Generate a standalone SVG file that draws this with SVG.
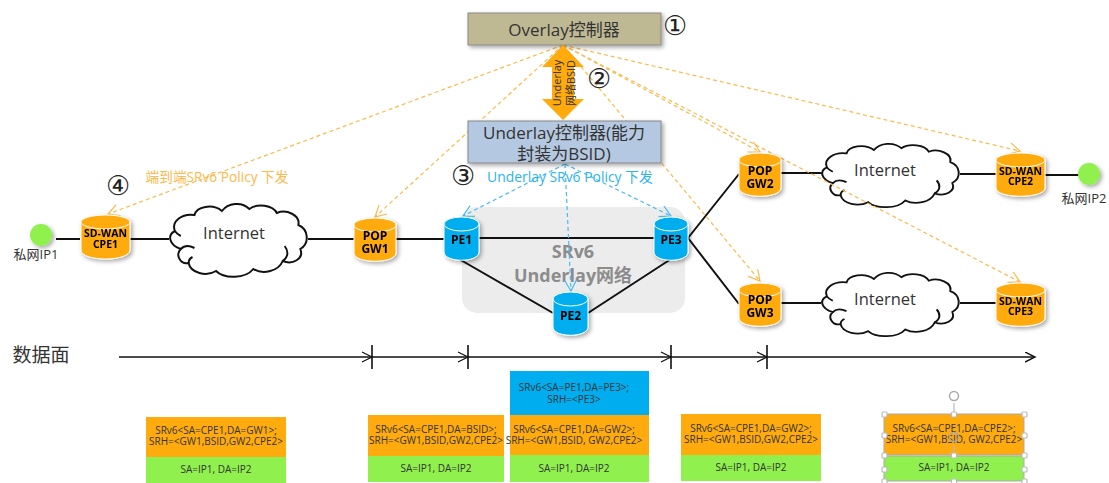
<svg xmlns="http://www.w3.org/2000/svg" xmlns:xlink="http://www.w3.org/1999/xlink" width="1109" height="483" viewBox="0 0 1109 483">
<style>
text{font-family:"Open Sans","Noto Sans CJK SC",sans-serif;text-anchor:middle;fill:#333}
.lnk{stroke:#111;stroke-width:2;fill:none}
.od{stroke:#fdb94a;stroke-width:1.2;stroke-dasharray:4 3;fill:none;marker-end:url(#oa)}
.bd{stroke:#45bdf0;stroke-width:1.2;stroke-dasharray:4 3;fill:none;marker-end:url(#ba)}
.cyl{font-size:10.5px;font-weight:700;fill:#000}
.pop{font-size:12px;font-weight:700;fill:#000}
.pk{font-size:10px;fill:#333}
.num{font-family:"DejaVu Sans",sans-serif;font-size:27px;fill:#222}
.net{font-size:16.500px}
.h{fill:#fff;stroke:#bbb;stroke-width:1.2}
</style>
<defs>
<marker id="oa" markerUnits="userSpaceOnUse" markerWidth="16" markerHeight="16" refX="12" refY="6" orient="auto"><path d="M1 0L12 6L1 12" fill="none" stroke="#fdb94a" stroke-width="1.2"/></marker>
<marker id="ba" markerUnits="userSpaceOnUse" markerWidth="16" markerHeight="16" refX="12" refY="6" orient="auto"><path d="M1 0L12 6L1 12" fill="none" stroke="#45bdf0" stroke-width="1.2"/></marker>
<marker id="ka" markerUnits="userSpaceOnUse" markerWidth="12" markerHeight="12" refX="10" refY="5" orient="auto"><path d="M0 0L10 5L0 10" fill="none" stroke="#111" stroke-width="1.4"/></marker>
<filter id="sh" x="-20%" y="-20%" width="140%" height="140%"><feDropShadow dx="2" dy="2" stdDeviation="2" flood-color="#000" flood-opacity=".35"/></filter>
<g id="cloud"><path d="M12 46C0 42-2 32 6 28C2 18 14 10 26 12C28 4 44 0 54 8C60 0 74-2 82 6C90 0 106 2 110 10C120 6 134 12 132 22C142 26 144 40 134 46C138 56 126 62 116 58C112 68 96 72 86 66C78 76 56 76 48 68C38 74 22 70 20 60C12 62 6 52 12 46Z" fill="#fff" stroke="#111" stroke-width="2"/><path d="M12 46C16 42 22 43 26 45M6 28C8 31 10 32 12 33M116 58C122 54 122 48 118 43M20 60C20 57 22 55 24 54" fill="none" stroke="#111" stroke-width="2"/></g>
</defs>

<g id="underlay-zone"><rect x="462" y="207" width="223" height="106" rx="15" fill="#ececec"/><text x="573" y="258" font-size="18" font-weight="700" style="fill:#8c8c8c"><tspan x="573">SRv6</tspan><tspan x="573" dy="24">Underlay网络</tspan></text></g>

<g id="cloud1"><use xlink:href="#cloud" href="#cloud" transform="translate(169,203) scale(.98,1)"/><text class="net" x="234" y="239">Internet</text></g>
<g id="cloud2"><use xlink:href="#cloud" href="#cloud" transform="translate(821,143) scale(.98,.87)"/><text class="net" x="885" y="176">Internet</text></g>
<g id="cloud3"><use xlink:href="#cloud" href="#cloud" transform="translate(821,272) scale(.98,.87)"/><text class="net" x="885" y="305">Internet</text></g>

<g id="connectors">
<path class="lnk" d="M56 239H80M130 239H169M308 239H354M396 239H444M479 238H654M459 259L553 313M588 313L671 259M688 238L739 174M688 238L739 304M781 173H821M960 174H996M1045 175H1080M781 303H821M960 303H996"/>
<path class="od" d="M563 45L108 214"/>
<path class="od" d="M563 45L375 217"/>
<path class="od" d="M563 45L760 152"/>
<path class="od" d="M563 45L1020 151"/>
<path class="od" d="M563 45L760 281"/>
<path class="od" d="M563 45L1020 282"/>
<path class="bd" d="M565 164L463 216"/>
<path class="bd" d="M565 164L571 291"/>
<path class="bd" d="M565 164L671 216"/>
<path d="M119 357H1035" fill="none" stroke="#111" stroke-width="1.4" marker-end="url(#ka)"/>
<path d="M372 345V369M468 345V369M671 345V369M767 345V369" stroke="#111" stroke-width="1.6"/>
<path d="M362 352L372 357L362 362M458 352L468 357L458 362M661 352L671 357L661 362M757 352L767 357L757 362" fill="none" stroke="#111" stroke-width="1.2"/>
</g>

<g id="overlay-ctrl"><rect x="468" y="13" width="193" height="32" fill="#bfb993" stroke="#888" filter="url(#sh)"/><text x="564" y="36" font-size="17">Overlay控制器</text></g>
<g id="bsid-arrow"><path d="M563 45L584 67H574V99H584L563 120L542 99H552V67H542Z" fill="#ffab0d"/><text transform="translate(563,83) rotate(-90)" font-size="11"><tspan x="0" dy="-2">Underlay</tspan><tspan x="0" dy="14">网络BSID</tspan></text></g>
<g id="underlay-ctrl"><rect x="468" y="121" width="193" height="42" fill="#b4c8e1" stroke="#888" filter="url(#sh)"/><text font-size="17"><tspan x="564" y="139">Underlay控制器(能力</tspan><tspan x="564" y="160">封装为BSID)</tspan></text></g>

<text class="num" x="675" y="35">①</text>
<text class="num" x="599" y="88">②</text>
<text class="num" x="463" y="185">③</text>
<text class="num" x="118" y="195">④</text>
<text x="570" y="182" font-size="13.900" style="fill:#2db3ee">Underlay SRv6 Policy 下发</text>
<text x="217" y="182" font-size="13.700" style="fill:#fdb94a">端到端SRv6 Policy 下发</text>

<g id="ip1"><circle cx="41" cy="235" r="11" fill="#90f04e" filter="url(#sh)"/><text x="36" y="259" font-size="13">私网IP1</text></g>
<g id="ip2"><circle cx="1089" cy="174" r="11" fill="#90f04e" filter="url(#sh)"/><text x="1084" y="203" font-size="13">私网IP2</text></g>

<g id="cpe1" filter="url(#sh)"><path d="M81 222V250C81 262 130 262 130 250V222Z" fill="#ffab0d" stroke="#fff"/><ellipse cx="105.500" cy="222" rx="24.500" ry="7" fill="#ffab0d" stroke="#fff"/><text class="cyl" x="105.500" y="237"><tspan x="105.500">SD-WAN</tspan><tspan x="105.500" dy="11">CPE1</tspan></text></g>
<g id="gw1" filter="url(#sh)"><path d="M354 225V253C354 264 396 264 396 253V225Z" fill="#ffab0d" stroke="#fff"/><ellipse cx="375" cy="225" rx="21" ry="7" fill="#ffab0d" stroke="#fff"/><text class="pop" x="375" y="240"><tspan x="375">POP</tspan><tspan x="375" dy="13">GW1</tspan></text></g>
<g id="pe1" filter="url(#sh)"><path d="M444 224V252C444 263 479 263 479 252V224Z" fill="#00adef" stroke="#fff"/><ellipse cx="461.500" cy="224" rx="17.500" ry="7" fill="#00adef" stroke="#fff"/><text class="pop" x="461.500" y="244">PE1</text></g>
<g id="pe3" filter="url(#sh)"><path d="M654 224V252C654 263 688 263 688 252V224Z" fill="#00adef" stroke="#fff"/><ellipse cx="671" cy="224" rx="17" ry="7" fill="#00adef" stroke="#fff"/><text class="pop" x="671" y="244">PE3</text></g>
<g id="pe2" filter="url(#sh)"><path d="M553 299V327C553 338 588 338 588 327V299Z" fill="#00adef" stroke="#fff"/><ellipse cx="570.500" cy="299" rx="17.500" ry="7" fill="#00adef" stroke="#fff"/><text class="pop" x="570.500" y="320">PE2</text></g>
<g id="gw2" filter="url(#sh)"><path d="M739 160V188C739 199 781 199 781 188V160Z" fill="#ffab0d" stroke="#fff"/><ellipse cx="760" cy="160" rx="21" ry="7" fill="#ffab0d" stroke="#fff"/><text class="pop" x="760" y="175"><tspan x="760">POP</tspan><tspan x="760" dy="13">GW2</tspan></text></g>
<g id="gw3" filter="url(#sh)"><path d="M739 290V318C739 329 781 329 781 318V290Z" fill="#ffab0d" stroke="#fff"/><ellipse cx="760" cy="290" rx="21" ry="7" fill="#ffab0d" stroke="#fff"/><text class="pop" x="760" y="304"><tspan x="760">POP</tspan><tspan x="760" dy="13">GW3</tspan></text></g>
<g id="cpe2" filter="url(#sh)"><path d="M996 160V188C996 199 1045 199 1045 188V160Z" fill="#ffab0d" stroke="#fff"/><ellipse cx="1020.500" cy="160" rx="24.500" ry="7" fill="#ffab0d" stroke="#fff"/><text class="cyl" x="1020.500" y="175"><tspan x="1020.500">SD-WAN</tspan><tspan x="1020.500" dy="10">CPE2</tspan></text></g>
<g id="cpe3" filter="url(#sh)"><path d="M996 290V318C996 329 1045 329 1045 318V290Z" fill="#ffab0d" stroke="#fff"/><ellipse cx="1020.500" cy="290" rx="24.500" ry="7" fill="#ffab0d" stroke="#fff"/><text class="cyl" x="1020.500" y="305"><tspan x="1020.500">SD-WAN</tspan><tspan x="1020.500" dy="10">CPE3</tspan></text></g>

<text x="41" y="362" font-size="19">数据面</text>

<g id="packet1"><rect x="146" y="417" width="140" height="40" fill="#ffab0d"/><rect x="146" y="457" width="140" height="26" fill="#90f04e"/><text class="pk"><tspan x="216" y="434">SRv6&lt;SA=CPE1,DA=GW1&gt;;</tspan><tspan x="216" y="445">SRH=&lt;GW1,BSID,GW2,CPE2&gt;</tspan></text><text class="pk" x="216" y="473">SA=IP1, DA=IP2</text></g>
<g id="packet2"><rect x="368" y="415" width="136" height="41" fill="#ffab0d"/><rect x="368" y="456" width="136" height="26" fill="#90f04e"/><text class="pk"><tspan x="436" y="433">SRv6&lt;SA=CPE1,DA=BSID&gt;;</tspan><tspan x="436" y="444">SRH=&lt;GW1,BSID,GW2,CPE2&gt;</tspan></text><text class="pk" x="436" y="472">SA=IP1, DA=IP2</text></g>
<g id="packet3"><rect x="510" y="371" width="139" height="44" fill="#00adef"/><rect x="510" y="415" width="139" height="40" fill="#ffab0d"/><rect x="510" y="455" width="139" height="27" fill="#90f04e"/><text class="pk"><tspan x="574" y="391">SRv6&lt;SA=PE1,DA=PE3&gt;;</tspan><tspan x="574" y="403">SRH=&lt;PE3&gt;</tspan></text><text class="pk"><tspan x="574" y="433">SRv6&lt;SA=CPE1,DA=GW2&gt;;</tspan><tspan x="574" y="444">SRH=&lt;GW1,BSID, GW2,CPE2&gt;</tspan></text><text class="pk" x="574" y="472">SA=IP1, DA=IP2</text></g>
<g id="packet4"><rect x="681" y="414" width="140" height="41" fill="#ffab0d"/><rect x="681" y="455" width="140" height="26" fill="#90f04e"/><text class="pk"><tspan x="751" y="432">SRv6&lt;SA=CPE1,DA=GW2&gt;;</tspan><tspan x="751" y="443">SRH=&lt;GW1,BSID,GW2,CPE2&gt;</tspan></text><text class="pk" x="751" y="471">SA=IP1, DA=IP2</text></g>
<g id="packet5"><rect x="884" y="414" width="140" height="41" fill="#ffab0d" stroke="#aaa"/><rect x="884" y="456" width="140" height="25" fill="#90f04e" stroke="#aaa"/><text class="pk"><tspan x="954" y="432">SRv6&lt;SA=CPE1,DA=CPE2&gt;;</tspan><tspan x="954" y="443">SRH=&lt;GW1,BSID, GW2,CPE2&gt;</tspan></text><text class="pk" x="954" y="471">SA=IP1, DA=IP2</text>
<g id="selection"><path d="M954 403V414M954 445V456" stroke="#bbb" stroke-width="1.2"/><circle cx="954" cy="396" r="4.500" fill="none" stroke="#aaa" stroke-width="1.5"/><circle cx="954" cy="437" r="4.500" fill="none" stroke="#aaa" stroke-width="1.5"/>
<rect class="h" x="882" y="412" width="5" height="5" rx="1"/><rect class="h" x="951.500" y="412" width="5" height="5" rx="1"/><rect class="h" x="1022" y="412" width="5" height="5" rx="1"/><rect class="h" x="882" y="433" width="5" height="5" rx="1"/><rect class="h" x="1022" y="433" width="5" height="5" rx="1"/><rect class="h" x="882" y="453" width="5" height="5" rx="1"/><rect class="h" x="951.500" y="453" width="5" height="5" rx="1"/><rect class="h" x="1022" y="453" width="5" height="5" rx="1"/><rect class="h" x="882" y="467" width="5" height="5" rx="1"/><rect class="h" x="1022" y="467" width="5" height="5" rx="1"/><rect class="h" x="882" y="479" width="5" height="5" rx="1"/><rect class="h" x="951.500" y="479" width="5" height="5" rx="1"/><rect class="h" x="1022" y="479" width="5" height="5" rx="1"/></g></g>
</svg>
